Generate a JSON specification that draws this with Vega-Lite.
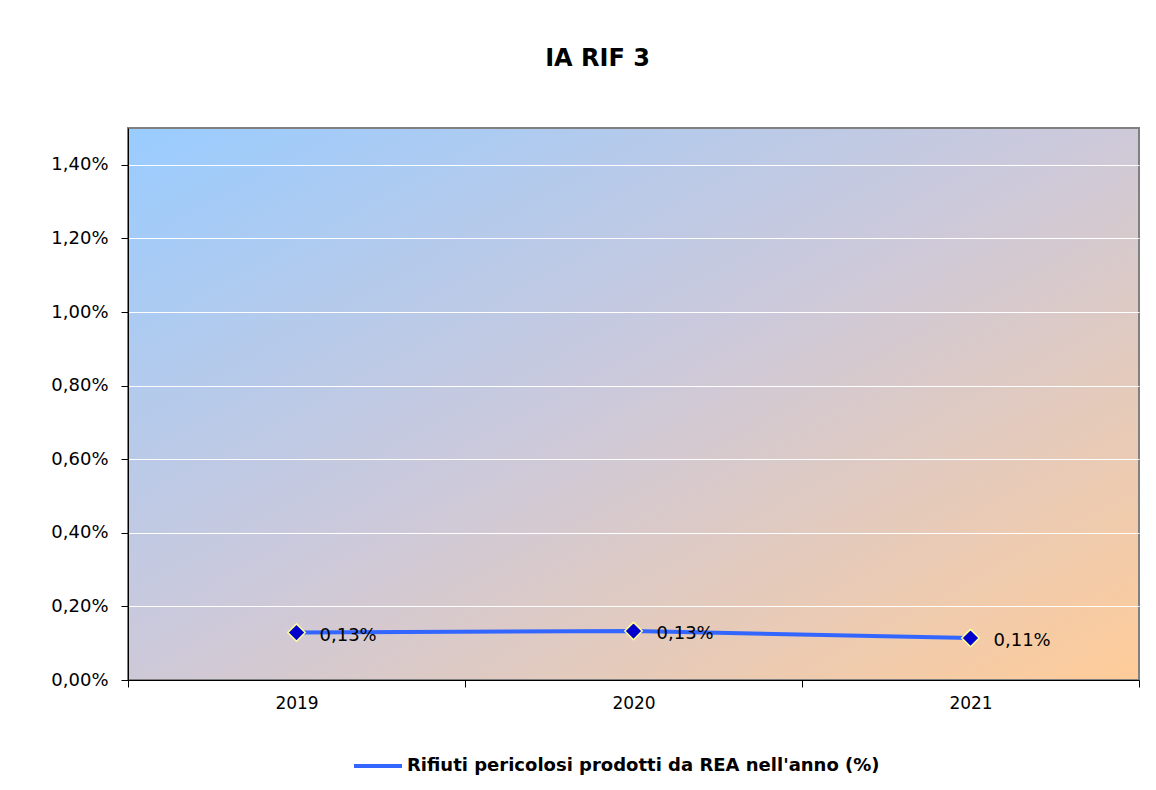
{
  "$schema": "https://vega.github.io/schema/vega-lite/v6.json",
  "description": "IA RIF 3 - rifiuti pericolosi prodotti da REA",
  "width": 1011,
  "height": 552,
  "autosize": {"type": "none"},
  "padding": {"left": 128, "top": 128, "right": 17, "bottom": 110},
  "background": "white",
  "title": {
    "text": "IA RIF 3",
    "font": "DejaVu Sans",
    "fontSize": 24,
    "fontWeight": "bold",
    "color": "black",
    "anchor": "middle",
    "frame": "group",
    "baseline": "alphabetic",
    "offset": 38,
    "dx": -36
  },
  "data": {
    "values": [
      {"anno": "2019", "valore": 0.00129, "serie": "Rifiuti pericolosi prodotti da REA nell'anno (%)"},
      {"anno": "2020", "valore": 0.00133, "serie": "Rifiuti pericolosi prodotti da REA nell'anno (%)"},
      {"anno": "2021", "valore": 0.00114, "serie": "Rifiuti pericolosi prodotti da REA nell'anno (%)"}
    ]
  },
  "config": {
    "font": "DejaVu Sans",
    "locale": {
      "number": {"decimal": ",", "thousands": ".", "grouping": [3], "currency": ["", " €"]}
    },
    "view": {
      "stroke": "#808080",
      "strokeWidth": 2,
      "fill": {
        "gradient": "linear",
        "x1": 0, "y1": 0, "x2": 1, "y2": 1,
        "stops": [
          {"offset": 0, "color": "#99ccff"},
          {"offset": 0.48, "color": "#ccc9db"},
          {"offset": 1, "color": "#ffcc99"}
        ]
      }
    },
    "axis": {
      "domainColor": "black",
      "tickColor": "black",
      "labelColor": "black",
      "labelFontSize": 18,
      "tickSize": 7,
      "title": null
    }
  },
  "encoding": {
    "x": {
      "field": "anno",
      "type": "ordinal",
      "scale": {"type": "band", "paddingInner": 0, "paddingOuter": 0},
      "axis": {"labelAngle": 0, "tickBand": "extent", "labelPadding": 8, "labelFontSize": 17, "grid": false}
    },
    "y": {
      "field": "valore",
      "type": "quantitative",
      "scale": {"domain": [0, 0.015], "nice": false},
      "axis": {
        "format": ".2%",
        "values": [0, 0.002, 0.004, 0.006, 0.008, 0.01, 0.012, 0.014],
        "grid": true,
        "gridColor": "white",
        "gridOpacity": 1,
        "gridWidth": 1,
        "labelPadding": 13
      }
    }
  },
  "layer": [
    {
      "mark": {"type": "line", "strokeWidth": 4},
      "encoding": {
        "color": {
          "field": "serie",
          "type": "nominal",
          "scale": {"range": ["#3366ff"]},
          "legend": {
            "title": null,
            "orient": "none",
            "legendX": 224,
            "legendY": 612,
            "padding": 0,
            "symbolType": "stroke",
            "symbolSize": 2304,
            "symbolStrokeWidth": 4,
            "labelFont": "DejaVu Sans",
            "labelFontSize": 18,
            "labelFontWeight": "bold",
            "labelColor": "black",
            "labelLimit": 0,
            "labelOffset": 3
          }
        }
      }
    },
    {
      "mark": {
        "type": "point",
        "shape": "diamond",
        "filled": true,
        "size": 300,
        "fill": "#0000cc",
        "stroke": "#ffff99",
        "strokeWidth": 1.5,
        "opacity": 1
      }
    },
    {
      "mark": {
        "type": "text",
        "align": "left",
        "baseline": "middle",
        "dx": 23,
        "dy": 3,
        "fontSize": 18,
        "color": "black"
      },
      "encoding": {
        "text": {"field": "valore", "type": "quantitative", "format": ".2%"}
      }
    }
  ]
}
